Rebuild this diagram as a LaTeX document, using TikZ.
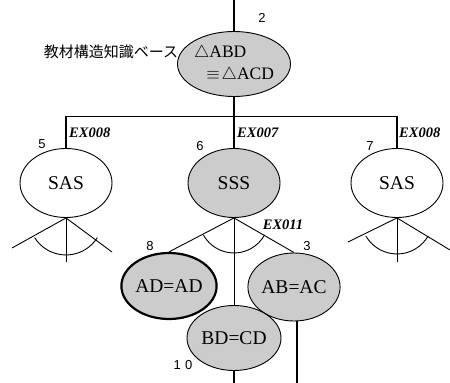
\documentclass[tikz,border=0pt]{standalone}
\usepackage{fontspec}
\setmainfont{Liberation Serif}
\newfontfamily\jpfont{Noto Sans CJK JP}
\newfontfamily\numfont{Liberation Sans}
\usetikzlibrary{shapes.geometric}

\begin{document}
\begin{tikzpicture}[x=1pt,y=1pt,
    every node/.style={align=center,font=\fontsize{19.5}{22}\selectfont},
    goal/.style={draw,ellipse,line width=0.9pt,inner sep=0pt,minimum width=92pt,minimum height=69pt},
    done/.style={goal,fill=gray!40},
    num/.style={font=\numfont\fontsize{13}{14}\selectfont},
    ex/.style={font=\bfseries\itshape\fontsize{14.5}{15}\selectfont,anchor=west,inner sep=0pt},
    link/.style={line width=0.9pt},
    trunk/.style={line width=1.5pt}]
  \useasboundingbox (0,0) rectangle (450,383);
  % goal nodes
  \node[done,minimum width=93pt,minimum height=65pt,font=\fontsize{17.5}{22}\selectfont,align=left] (n2) at (234,319)
    {$\triangle$ABD\\\hspace*{0.7em}$\equiv\!\triangle$ACD};
  \node[goal] (n5) at (66,200) {SAS};
  \node[done] (n6) at (234,200) {SSS};
  \node[goal] (n7) at (397,200) {SAS};
  \node[done,line width=2.2pt,minimum width=88pt,minimum height=66pt] (n8) at (169,97) {AD=AD};
  \node[done,minimum width=81pt,minimum height=68pt] (n3) at (294,96) {AB=AC};
  \node[done,minimum width=94pt,minimum height=65pt] (n10) at (234,45) {BD=CD};
  % free ends
  \coordinate (top) at (234,383);
  \coordinate (jl) at (66,267);
  \coordinate (jc) at (234,267);
  \coordinate (jr) at (397,267);
  \coordinate (bc) at (234,0);
  \coordinate (br) at (297,0);
  \coordinate (l5) at (12,135);
  \coordinate (r5) at (112,131);
  \coordinate (d5) at (66,121);
  \coordinate (l7) at (348,141);
  \coordinate (r7) at (450,133);
  \coordinate (d7) at (397,121);
  % tree
  \draw[trunk] (top) -- (n2.north);
  \draw[trunk] (n2.south) -- (jc);
  \draw[link] (jl) -- (jr);
  \draw[trunk] (jl) -- (n5.north);
  \draw[trunk] (jc) -- (n6.north);
  \draw[trunk] (jr) -- (n7.north);
  \draw[link] (n5.south) -- (l5);
  \draw[link] (n5.south) -- (r5);
  \draw[link] (n5.south) -- (d5);
  \draw[link] (n5.south) ++(-148:37pt) arc[start angle=-148,end angle=-32,radius=37pt];
  \draw[link] (n7.south) -- (l7);
  \draw[link] (n7.south) -- (r7);
  \draw[link] (n7.south) -- (d7);
  \draw[link] (n7.south) ++(-150:36pt) arc[start angle=-150,end angle=-30,radius=36pt];
  \draw[link] (n6.south) -- (n8.north);
  \draw[link] (n6.south) -- (n3.north);
  \draw[link] (n6.south) -- (n10.north);
  \draw[link] (n6.south) ++(-151:35pt) arc[start angle=-151,end angle=-29,radius=35pt];
  \draw[trunk] (n10.south) -- (bc);
  \draw[trunk] (n3.south -| br) -- (br);
  % labels
  \node[font=\jpfont\fontsize{15}{16}\selectfont] (kb) at (111,331) {教材構造知識ベース};
  \node[num] (c2) at (262,365) {2};
  \node[num] (c5) at (42,239) {5};
  \node[num] (c6) at (200,237) {6};
  \node[num] (c7) at (370,237) {7};
  \node[num] (c8) at (150,137) {8};
  \node[num] (c3) at (307,137) {3};
  \node[num] (c10) at (183,18) {1\,\,0};
  \node[ex] (e5) at (69,250) {EX008};
  \node[ex] (e6) at (237,250) {EX007};
  \node[ex] (e7) at (399,250) {EX008};
  \node[ex,anchor=center] (e11) at (283,158) {EX011};
\end{tikzpicture}
\end{document}
